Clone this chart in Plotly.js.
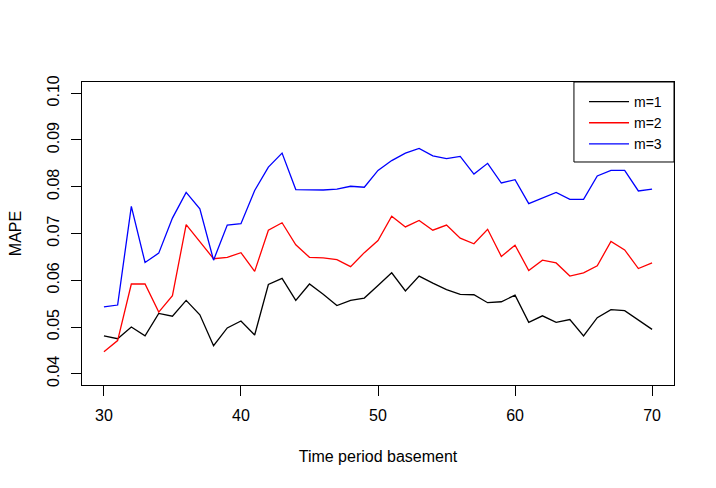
<!DOCTYPE html>
<html>
<head>
<meta charset="utf-8">
<script src="https://cdn.plot.ly/plotly-3.0.1.min.js"></script>
<style>
  html, body { margin: 0; padding: 0; background: #fff; }
  #chart { width: 716px; height: 488px; }
</style>
</head>
<body>
<div id="chart"></div>
<script>
// time period basement, 30..70
let periods = [];
for (let p = 30; p <= 70; p++) periods.push(p);

let mape_m1 = [0.0481, 0.0475, 0.0500, 0.0481, 0.0529, 0.0523, 0.0557, 0.0526, 0.0460, 0.0498,
               0.0513, 0.0483, 0.0591, 0.0604, 0.0557, 0.0592, 0.0570, 0.0546, 0.0557, 0.0562,
               0.0589, 0.0616, 0.0577, 0.0609, 0.0594, 0.0580, 0.0570, 0.0569, 0.0552, 0.0554,
               0.0568, 0.0510, 0.0524, 0.0510, 0.0516, 0.0481, 0.0520, 0.0537, 0.0535, 0.0515,
               0.0495];

let mape_m2 = [0.0447, 0.0471, 0.0592, 0.0592, 0.0532, 0.0567, 0.0719, 0.0682, 0.0646, 0.0649,
               0.0659, 0.0619, 0.0707, 0.0723, 0.0676, 0.0649, 0.0648, 0.0644, 0.0629, 0.0659,
               0.0685, 0.0737, 0.0714, 0.0728, 0.0707, 0.0718, 0.0690, 0.0678, 0.0709, 0.0651,
               0.0675, 0.0621, 0.0643, 0.0637, 0.0609, 0.0616, 0.0631, 0.0683, 0.0665, 0.0625,
               0.0637];

let mape_m3 = [0.0543, 0.0547, 0.0758, 0.0638, 0.0658, 0.0733, 0.0788, 0.0753, 0.0643, 0.0718,
               0.0721, 0.0792, 0.0842, 0.0872, 0.0794, 0.0793, 0.0793, 0.0795, 0.0801, 0.0799,
               0.0835, 0.0856, 0.0872, 0.0882, 0.0866, 0.0860, 0.0865, 0.0827, 0.0850, 0.0808,
               0.0815, 0.0764, 0.0776, 0.0788, 0.0773, 0.0773, 0.0823, 0.0835, 0.0835, 0.0791,
               0.0795];

let series_names = ["m=1", "m=2", "m=3"];
let series_colors = ["#000000", "#ff0000", "#0000ff"];
let series_values = [mape_m1, mape_m2, mape_m3];

let x_ticks = [30, 40, 50, 60, 70];
let y_ticks = [0.04, 0.05, 0.06, 0.07, 0.08, 0.09, 0.10];
let y_tick_labels = ["0.04", "0.05", "0.06", "0.07", "0.08", "0.09", "0.10"];

let data = series_values.map(function (vals, i) {
    return {
        x: periods,
        y: vals,
        mode: 'lines',
        name: series_names[i],
        line: { color: series_colors[i], width: 1.3 }
    };
});

let font_family = '"Liberation Sans", Arial, sans-serif';

let layout = {
    width: 716,
    height: 488,
    margin: { l: 82, r: 42, t: 82, b: 103 },
    paper_bgcolor: '#ffffff',
    plot_bgcolor: '#ffffff',
    font: { family: font_family, size: 16, color: '#000000' },
    showlegend: true,
    // legend entries without their own border; the box is a shape below
    legend: {
        x: 0.848, xanchor: 'left',
        y: 0.987, yanchor: 'top',
        borderwidth: 0,
        bgcolor: 'rgba(0,0,0,0)',
        itemwidth: 40,
        font: { family: font_family, size: 14, color: '#000000' },
        tracegroupgap: 0
    },
    shapes: [
        {
            type: 'rect', xref: 'paper', yref: 'paper',
            x0: 0.831, x1: 1, y0: 0.736, y1: 1,
            line: { color: '#000000', width: 1 },
            fillcolor: 'rgba(0,0,0,0)',
            layer: 'above'
        }
    ],
    xaxis: {
        range: [28.4, 71.6],
        tickvals: x_ticks,
        ticks: 'outside',
        ticklen: 10,
        tickcolor: '#000000',
        tickwidth: 1,
        showgrid: false,
        zeroline: false,
        showline: true,
        mirror: true,
        linecolor: '#000000',
        linewidth: 1,
        ticklabelstandoff: 6,
        title: { text: 'Time period basement', font: { size: 16 }, standoff: 27 }
    },
    yaxis: {
        range: [0.0376, 0.1024],
        tickvals: y_ticks,
        ticktext: y_tick_labels,
        tickangle: -90,
        ticks: 'outside',
        ticklen: 10,
        tickcolor: '#000000',
        tickwidth: 1,
        showgrid: false,
        zeroline: false,
        showline: true,
        mirror: true,
        linecolor: '#000000',
        linewidth: 1,
        ticklabelstandoff: 6,
        title: { text: 'MAPE', font: { size: 16 }, standoff: 18 }
    }
};

Plotly.newPlot('chart', data, layout, { displayModeBar: false, staticPlot: true });
</script>
</body>
</html>
